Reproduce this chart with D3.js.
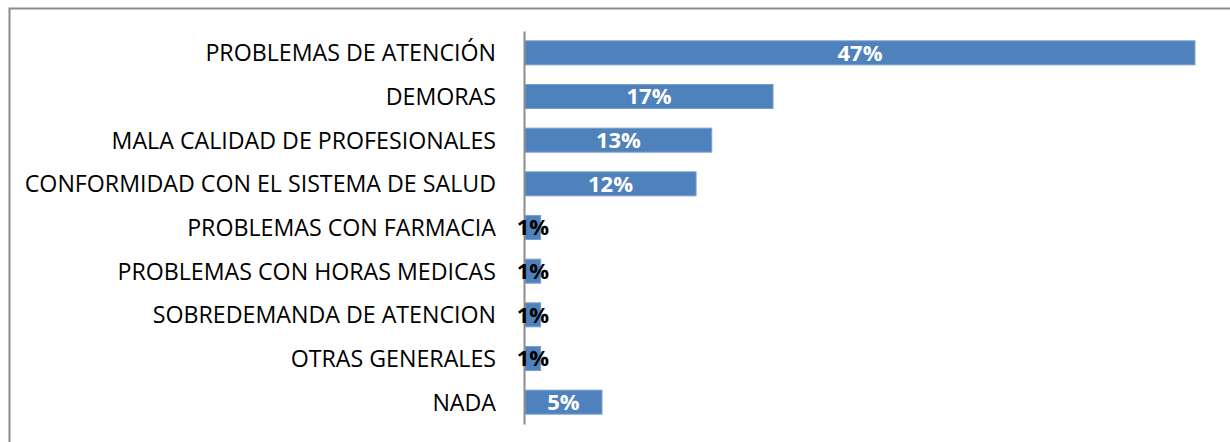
<!DOCTYPE html>
<html>
<head>
<meta charset="utf-8">
<script src="https://cdn.jsdelivr.net/npm/d3@7"></script>
<style>
  body { margin: 0; background: #fff; }
  .cat { font-family: "Open Sans", "Liberation Sans", sans-serif; font-size: 23.2px; fill: #000; }
  .val { font-family: "Open Sans", "Liberation Sans", sans-serif; font-size: 22px; font-weight: bold; }
</style>
</head>
<body>
<div id="chart"></div>
<script>
var categories = [
    "PROBLEMAS DE ATENCIÓN",
    "DEMORAS",
    "MALA CALIDAD DE PROFESIONALES",
    "CONFORMIDAD CON EL SISTEMA DE SALUD",
    "PROBLEMAS CON FARMACIA",
    "PROBLEMAS CON HORAS MEDICAS",
    "SOBREDEMANDA DE ATENCION",
    "OTRAS GENERALES",
    "NADA"
];
var values = [47, 17.4, 13.1, 12, 1.1, 1.1, 1.1, 1.1, 5.4];
var valueLabels = ["47%", "17%", "13%", "12%", "1%", "1%", "1%", "1%", "5%"];

var width = 1230, height = 442;
var margin = {top: 31, left: 525, bottom: 18};

var svg = d3.select("#chart").append("svg")
    .attr("width", width)
    .attr("height", height);

// outer frame
svg.append("rect")
    .attr("x", 9.5).attr("y", 8.5)
    .attr("width", width + 10).attr("height", height + 10)
    .attr("fill", "none")
    .attr("stroke", "#8c8c8c")
    .attr("stroke-width", 2);

var x = d3.scaleLinear().domain([0, 47]).range([margin.left, 1195]);
var y = d3.scaleBand().domain(categories)
    .range([margin.top, height - margin.bottom])
    .paddingInner(0.45).paddingOuter(0.225);

var data = categories.map(function (c, i) {
    return {name: c, value: values[i], label: valueLabels[i]};
});

// bars
svg.selectAll(".bar")
    .data(data)
    .enter().append("rect")
        .attr("class", "bar")
        .attr("x", x(0))
        .attr("y", function (d) { return y(d.name); })
        .attr("width", function (d) { return x(d.value) - x(0); })
        .attr("height", y.bandwidth())
        .attr("fill", "#4f81bd")
        .attr("stroke", "#7aa0cf")
        .attr("stroke-width", 1);

// axis line
var yAxis = svg.append("g")
    .attr("transform", "translate(" + (margin.left - 1) + ",0)")
    .call(d3.axisLeft(y).tickSize(0).tickSizeOuter(0).tickFormat(""));
yAxis.select(".domain").attr("stroke", "#8c8c8c").attr("stroke-width", 2);

// category labels
svg.selectAll(".cat")
    .data(data)
    .enter().append("text")
        .attr("class", "cat")
        .attr("x", 496)
        .attr("y", function (d) { return y(d.name) + y.bandwidth() / 2; })
        .attr("dy", "0.36em")
        .attr("text-anchor", "end")
        .text(function (d) { return d.name; });

// value labels
svg.selectAll(".val")
    .data(data)
    .enter().append("text")
        .attr("class", "val")
        .attr("x", function (d) { return (x(0) + x(d.value)) / 2; })
        .attr("y", function (d) { return y(d.name) + y.bandwidth() / 2; })
        .attr("dy", "0.36em")
        .attr("text-anchor", "middle")
        .attr("fill", function (d) { return d.value < 3 ? "#000" : "#fff"; })
        .text(function (d) { return d.label; });
</script>
</body>
</html>
